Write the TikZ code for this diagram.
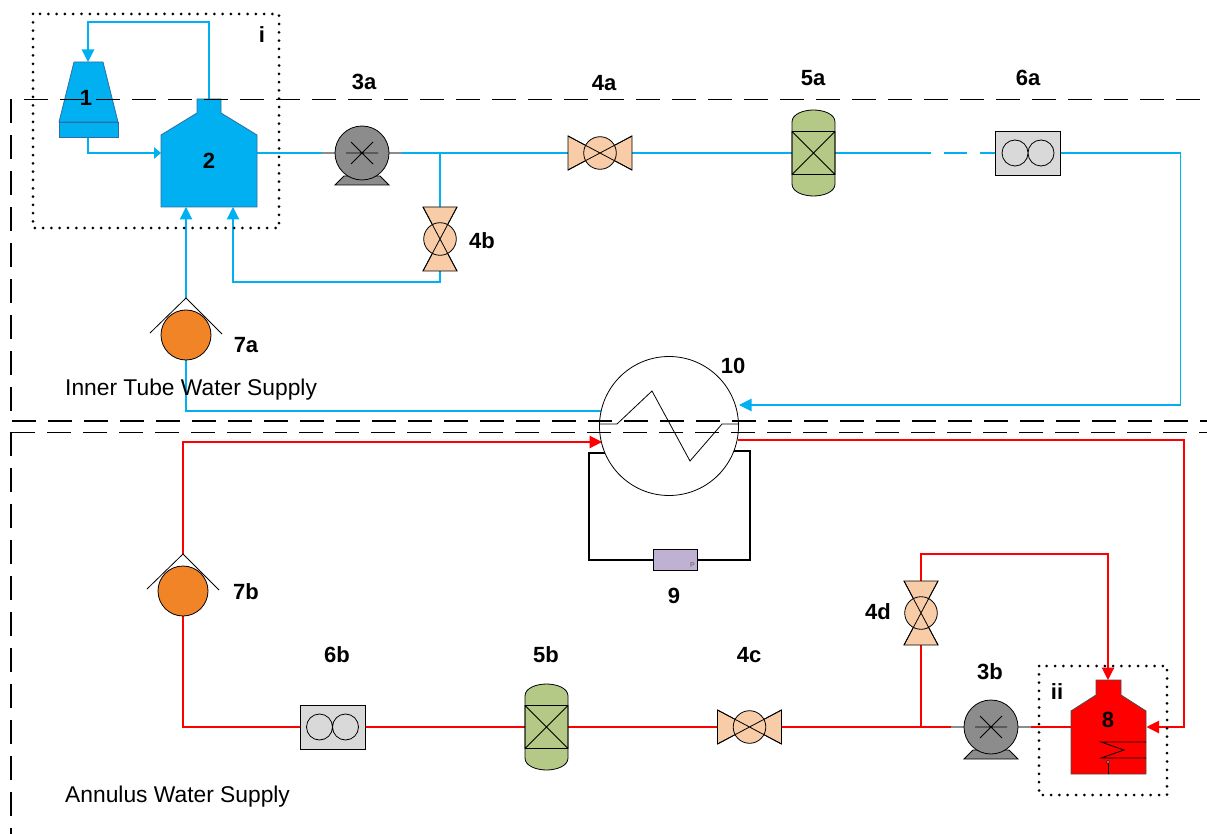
\documentclass[tikz,border=0pt]{standalone}
\usepackage{fontspec}
\setmainfont{Liberation Sans}
\usetikzlibrary{arrows.meta,calc,backgrounds}
\definecolor{pipeb}{HTML}{00B0F0}
\definecolor{piper}{HTML}{FF0000}
\definecolor{valvefill}{HTML}{F9CCA8}
\definecolor{vesselfill}{HTML}{B3C985}
\definecolor{meterfill}{HTML}{F28428}
\definecolor{pumpfill}{HTML}{8C8C8C}
\definecolor{boxfill}{HTML}{D9D9D9}
\definecolor{purgefill}{HTML}{BFB1D1}
\definecolor{towerline}{HTML}{2E6DA4}
\tikzset{every node/.style={font=\fontsize{22}{26}\selectfont\bfseries},
bluepipe/.style={draw=pipeb,line width=1.1pt},redpipe/.style={draw=piper,line width=1.1pt},
bigtip/.style={-{Triangle[length=12.5pt,width=12.5pt]}},smalltip/.style={-{Triangle[length=7pt,width=11.5pt]}},
equip/.style={draw=black,line width=.8pt},zone/.style={draw=black,line width=1.2pt,dash pattern=on 24pt off 12pt},
dotbox/.style={draw=black,line width=3pt,line cap=round,dash pattern=on 0pt off 8.3pt},
plain/.style={font=\fontsize{22.8}{26}\selectfont,anchor=west,inner sep=0pt},
valve/.pic={\draw[equip,fill=valvefill] (-32,-17)--(-32,17)--(32,-17)--(32,17)--cycle;\draw[equip,fill=valvefill] (0,0) circle(16.3pt);
\draw[equip] (-32,-17)--(32,17) (-32,17)--(32,-17);\coordinate (-w) at (-32,0);\coordinate (-e) at (32,0);},
pump/.pic={\draw[draw=pumpfill,line width=1.2pt] (-40,0)--(40,0);\draw[equip,fill=pumpfill] (-27,32)--(-18,23)--(18,23)--(27,32)--cycle;\draw[equip,fill=pumpfill] (0,0) circle(27pt);
\draw[equip] (-16,0)--(16,0) (-11,-11)--(11,11) (-11,11)--(11,-11);\coordinate (-w) at (-40,0);\coordinate (-e) at (40,0);},
vessel/.pic={\draw[equip,fill=vesselfill] (-21.5,-31) .. controls (-21.5,-39) and (-10,-43) .. (0,-43) .. controls (10,-43) and (21.5,-39) .. (21.5,-31)--(21.5,31) .. controls (21.5,39) and (10,43) .. (0,43) .. controls (-10,43) and (-21.5,39) .. (-21.5,31)--cycle;
\draw[equip] (-21.5,-21.5) rectangle (21.5,21.5) (-21.5,-21.5)--(21.5,21.5) (-21.5,21.5)--(21.5,-21.5);\coordinate (-w) at (-21.5,0);\coordinate (-e) at (21.5,0);},
filterbox/.pic={\draw[equip,fill=boxfill] (-32.5,-22) rectangle (32.5,22);\draw[equip] (-13,0) circle(13pt) (13,0) circle(13pt);\coordinate (-w) at (-32.5,0);\coordinate (-e) at (32.5,0);},
meter/.pic={\draw[equip] (-36,-2)--(0,-37)--(36,-1);\draw[equip,fill=meterfill] (0,0) circle(25pt);\coordinate (-n) at (0,-37);\coordinate (-s) at (0,25);}}
\begin{document}
\begin{tikzpicture}[x=1pt,y=-1pt]
\useasboundingbox (0,0) rectangle (1207,834);
\coordinate (t1top) at (88,62);\coordinate (t1bot) at (88,137);\coordinate (t2top) at (209,99);\coordinate (t2in) at (161,153);\coordinate (t2out) at (257,153);\coordinate (t2a) at (186,207);\coordinate (t2b) at (233,207);
\coordinate (jn4b) at (440,153);\coordinate (jn4d) at (921,727);\coordinate (hxin) at (739,405);\coordinate (hxbout) at (601,411);\coordinate (hxrin) at (602,442);\coordinate (hxrout) at (738,440);\coordinate (hxl) at (605,453);\coordinate (hxr) at (733,451);
\coordinate (t8top) at (1108,680);\coordinate (t8in) at (1146.5,727);\coordinate (t8out) at (1071,727);
\pic (p3a) at (362,153) {pump};\pic (v4a) at (600,153) {valve};\pic[rotate=90] (v4b) at (440,239) {valve};\pic (c5a) at (813.5,153) {vessel};\pic (f6a) at (1028,153) {filterbox};\pic (m7a) at (186,335) {meter};
\pic (p3b) at (991,727) {pump};\pic (v4c) at (749.5,727) {valve};\pic[rotate=90] (v4d) at (921,613) {valve};\pic (c5b) at (546.5,727) {vessel};\pic (f6b) at (332.5,727) {filterbox};\pic (m7b) at (183,591) {meter};
\draw[draw=towerline,fill=pipeb,line width=.8pt] (74,62)--(103,62)--(118,122)--(59,122)--cycle;\draw[draw=towerline,fill=pipeb,line width=.8pt] (59,122) rectangle (118,137);
\draw[draw=towerline,fill=pipeb,line width=.8pt] (161,207)--(161,135)--(197,113)--(197,99)--(221,99)--(221,113)--(257,135)--(257,207)--cycle;
\draw[draw=black!70,fill=piper,line width=.8pt] (1071,774)--(1071,711)--(1096,695)--(1096,680)--(1121,680)--(1121,695)--(1146,711)--(1146,774)--cycle;
\draw[equip] (1146,742)--(1101,742)--(1124,750)--(1101,758)--(1146,758);\draw[equip] (1108,774)--(1108,763);\draw[black,fill=white,line width=.5pt] (1108,762) circle(1.5pt);
\node[circle,equip,fill=white,minimum size=139pt,inner sep=0pt] (hx) at (669,426) {};
\draw[equip] (600,424)--(617,424)--(652,391)--(690,461)--(722,424)--(739,424);
\node[rectangle,equip,line width=1pt,fill=purgefill,minimum width=44pt,minimum height=21pt,inner sep=0pt] (pm) at (675,560) {};
\node[font=\fontsize{7}{8}\selectfont,text=black!65,inner sep=0pt] (pmlab) at (692.5,565.5) {P};
\begin{scope}[on background layer]
\draw[bluepipe,bigtip] (t2top)--++(0,-77)-|(t1top);\draw[bluepipe,smalltip] (t1bot)|-(t2in);\draw[bluepipe] (t2out)--(p3a-w);\draw[bluepipe] (p3a-e)--(v4a-w);\draw[bluepipe] (jn4b)--(v4b-e);
\draw[bluepipe,bigtip] (v4b-w)--++(0,11)-|(t2b);\draw[bluepipe] (v4a-e)--(c5a-w);\draw[bluepipe,dash pattern=on 96pt off 13pt on 23pt off 13pt on 20pt] (c5a-e)--(f6a-w);
\draw[bluepipe,bigtip] (f6a-e)--++(120,0)|-(hxin);\draw[bluepipe] (hxbout)-|(m7a-s);\draw[bluepipe,bigtip] (m7a-n)--(t2a);
\draw[redpipe,bigtip] (m7b-n)|-(hxrin);\draw[redpipe,bigtip] (hxrout)--++(446,0)|-(t8in);\draw[redpipe] (m7b-s)|-(f6b-w);\draw[redpipe] (f6b-e)--(c5b-w);\draw[redpipe] (c5b-e)--(v4c-w);\draw[redpipe] (v4c-e)--(p3b-w);
\draw[redpipe] (p3b-e)--(t8out);\draw[redpipe] (jn4d)--(v4d-w);\draw[redpipe,bigtip] (v4d-e)--++(0,-27)-|(t8top);
\draw[equip,line width=1.1pt] (hxl)--++(-16,0)|-(pm.west);\draw[equip,line width=1.1pt] (hxr)--++(17,0)|-(pm.east);
\end{scope}
\draw[dotbox] (33,14) rectangle (279,228);\draw[dotbox] (1039,666) rectangle (1167,795);
\draw[zone] (24,99.5)--(1207,99.5);\draw[zone] (11,99)--(11,415);\draw[zone] (12,421)--(1207,421);\draw[zone] (11,432.5)--(1207,432.5);\draw[zone] (11,432)--(11,834);
\node (lab1) at (86,98) {1};\node (lab2) at (209,161) {2};\node (labi) at (262,35) {i};\node (lab3a) at (364,82) {3a};\node (lab4a) at (604,83) {4a};\node (lab5a) at (813,78) {5a};\node (lab6a) at (1028,78) {6a};
\node (lab4b) at (482,241) {4b};\node (lab7a) at (246,345) {7a};\node (lab10) at (733,366) {10};\node (lab9) at (674,596) {9};\node (lab7b) at (246,592) {7b};\node (lab6b) at (337,655) {6b};\node (lab5b) at (546,655) {5b};
\node (lab4c) at (749,655) {4c};\node (lab4d) at (878,612) {4d};\node (lab3b) at (990,672) {3b};\node (labii) at (1057,692) {ii};\node (lab8) at (1108,720) {8};
\node[plain] (inner) at (65,390) {Inner Tube Water Supply};\node[plain] (annulus) at (65,797) {Annulus Water Supply};
\end{tikzpicture}
\end{document}
